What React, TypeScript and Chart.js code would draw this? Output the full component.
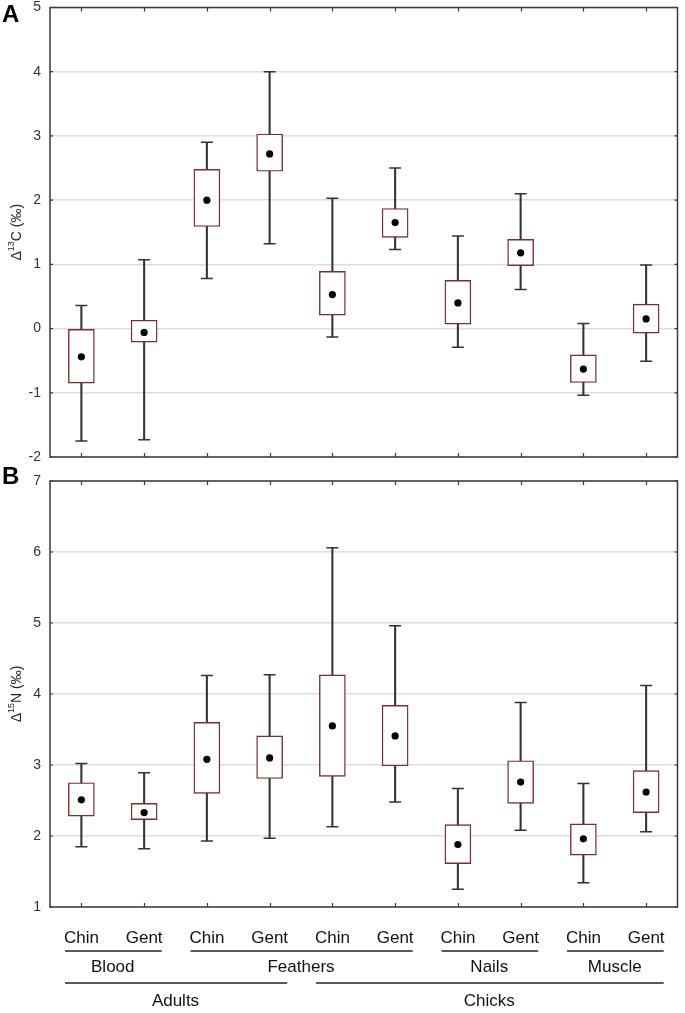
import React, { useEffect, useRef } from 'react';
import { Chart, registerables } from 'chart.js';

Chart.register(...registerables);

const FONT = "'Liberation Sans', Arial, sans-serif";

// Categories (x axis)
const categories = ['Chin', 'Gent', 'Chin', 'Gent', 'Chin', 'Gent', 'Chin', 'Gent', 'Chin', 'Gent'];
const tissueLabels = ['Blood', 'Feathers', 'Nails', 'Muscle'];
const tissueSpans = [[0, 1], [2, 5], [6, 7], [8, 9]];
const ageLabels = ['Adults', 'Chicks'];
const ageSpans = [[0, 3], [4, 9]];

// Panel A: Δ13C (‰)
const c13WhiskerLow = [-1.75, -1.73, 0.78, 1.32, -0.13, 1.23, -0.29, 0.61, -1.04, -0.51];
const c13BoxLow = [-0.85, -0.21, 1.59, 2.45, 0.21, 1.42, 0.07, 0.98, -0.84, -0.07];
const c13Mean = [-0.44, -0.06, 2.0, 2.72, 0.53, 1.65, 0.4, 1.18, -0.63, 0.15];
const c13BoxHigh = [0.0, 0.13, 2.48, 3.03, 0.89, 1.87, 0.75, 1.39, -0.41, 0.38];
const c13WhiskerHigh = [0.36, 1.07, 2.9, 4.0, 2.03, 2.5, 1.44, 2.1, 0.08, 0.99];
const c13Min = -2;
const c13Max = 5;

// Panel B: Δ15N (‰)
const n15WhiskerLow = [1.85, 1.82, 1.93, 1.97, 2.13, 2.48, 1.25, 2.08, 1.34, 2.06];
const n15BoxLow = [2.28, 2.23, 2.6, 2.81, 2.84, 2.99, 1.61, 2.46, 1.73, 2.33];
const n15Mean = [2.51, 2.33, 3.08, 3.1, 3.55, 3.41, 1.88, 2.76, 1.96, 2.62];
const n15BoxHigh = [2.75, 2.46, 3.6, 3.41, 4.27, 3.84, 2.16, 3.06, 2.17, 2.92];
const n15WhiskerHigh = [3.02, 2.89, 4.26, 4.27, 6.06, 4.96, 2.67, 3.88, 2.74, 4.12];
const n15Min = 1;
const n15Max = 7;

const BOX_COLOR = '#7b2c2c';
const LINE_COLOR = '#333333';

function zeroPad(s: any) {
  s.paddingTop = 0;
  s.paddingBottom = 0;
  s.paddingLeft = 0;
  s.paddingRight = 0;
}

function framePlugin() {
  return {
    id: 'frame',
    beforeDatasetsDraw(chart: any) {
      const { ctx, chartArea, scales } = chart;
      const { left, right, top, bottom } = chartArea;
      const x = scales.x;
      const y = scales.y;
      ctx.save();
      ctx.strokeStyle = '#3a3a3a';
      ctx.lineWidth = 1.5;
      ctx.strokeRect(left, top, right - left, bottom - top);
      ctx.lineWidth = 1.2;
      ctx.beginPath();
      for (let i = 0; i < categories.length; i++) {
        const px = Math.round(x.getPixelForValue(i)) + 0.5;
        ctx.moveTo(px, top);
        ctx.lineTo(px, top + 4);
        ctx.moveTo(px, bottom);
        ctx.lineTo(px, bottom - 4);
      }
      y.ticks.forEach((t: any) => {
        const py = y.getPixelForValue(t.value);
        ctx.moveTo(left, py);
        ctx.lineTo(left + 3, py);
        ctx.moveTo(right, py);
        ctx.lineTo(right - 3, py);
      });
      ctx.stroke();
      ctx.restore();
    },
  };
}

function titlePlugin(sup: string, element: string) {
  return {
    id: 'ytitle',
    afterDraw(chart: any) {
      const { ctx, chartArea } = chart;
      const cy = (chartArea.top + chartArea.bottom) / 2;
      const cx = 17;
      const big = `14px ${FONT}`;
      const small = `9px ${FONT}`;
      ctx.save();
      ctx.font = big;
      const wD = ctx.measureText('Δ').width;
      const rest = `${element} (‰)`;
      const wR = ctx.measureText(rest).width;
      ctx.font = small;
      const wS = ctx.measureText(sup).width;
      const total = wD + wS + wR;
      ctx.translate(cx, cy);
      ctx.rotate(-Math.PI / 2);
      ctx.fillStyle = '#222';
      ctx.textBaseline = 'middle';
      ctx.textAlign = 'left';
      let pos = -total / 2;
      ctx.font = big;
      ctx.fillText('Δ', pos, 0);
      pos += wD;
      ctx.font = small;
      ctx.fillText(sup, pos, -5);
      pos += wS;
      ctx.font = big;
      ctx.fillText(rest, pos, 0);
      ctx.restore();
    },
  };
}

function groupPlugin() {
  return {
    id: 'groups',
    afterDraw(chart: any) {
      const { ctx, scales } = chart;
      const x = scales.x;
      const step = x.getPixelForValue(1) - x.getPixelForValue(0);
      const rowLine1 = 481;
      const rowText1 = 497;
      const rowLine2 = 513;
      const rowText2 = 531;
      ctx.save();
      ctx.strokeStyle = '#222';
      ctx.lineWidth = 1.3;
      ctx.fillStyle = '#111';
      ctx.font = `17px ${FONT}`;
      ctx.textAlign = 'center';
      ctx.textBaseline = 'middle';
      const drawRow = (labels: string[], spans: number[][], ly: number, ty: number) => {
        labels.forEach((lab, i) => {
          const a = x.getPixelForValue(spans[i][0]) - step * 0.26;
          const b = x.getPixelForValue(spans[i][1]) + step * 0.28;
          ctx.beginPath();
          ctx.moveTo(a, ly);
          ctx.lineTo(b, ly);
          ctx.stroke();
          ctx.fillText(lab, (x.getPixelForValue(spans[i][0]) + x.getPixelForValue(spans[i][1])) / 2, ty);
        });
      };
      drawRow(tissueLabels, tissueSpans, rowLine1, rowText1);
      drawRow(ageLabels, ageSpans, rowLine2, rowText2);
      ctx.restore();
    },
  };
}

function buildConfig(p: {
  wl: number[]; bl: number[]; mean: number[]; bh: number[]; wh: number[];
  min: number; max: number; sup: string; element: string;
  padTop: number; xHeight: number; showLabels: boolean;
}) {
  const plugins: any[] = [framePlugin(), titlePlugin(p.sup, p.element)];
  if (p.showLabels) plugins.push(groupPlugin());
  return {
    type: 'bar',
    data: {
      labels: categories,
      datasets: [
        {
          type: 'line',
          label: 'mean',
          data: p.mean,
          showLine: false,
          pointStyle: 'circle',
          pointRadius: 3.6,
          pointBackgroundColor: '#000',
          pointBorderWidth: 0,
          order: 0,
        },
        {
          type: 'line',
          label: 'upper cap',
          data: p.wh,
          showLine: false,
          pointStyle: 'line',
          pointRadius: 6,
          pointBorderColor: LINE_COLOR,
          pointBorderWidth: 1.5,
          order: 1,
        },
        {
          type: 'line',
          label: 'lower cap',
          data: p.wl,
          showLine: false,
          pointStyle: 'line',
          pointRadius: 6,
          pointBorderColor: LINE_COLOR,
          pointBorderWidth: 1.5,
          order: 1,
        },
        {
          type: 'bar',
          label: 'box',
          data: p.bl.map((v, i) => [v, p.bh[i]]),
          backgroundColor: '#ffffff',
          borderColor: BOX_COLOR,
          borderWidth: 1.4,
          borderSkipped: false,
          barThickness: 26,
          grouped: false,
          order: 2,
        },
        {
          type: 'bar',
          label: 'whisker',
          data: p.wl.map((v, i) => [v, p.wh[i]]),
          backgroundColor: LINE_COLOR,
          borderWidth: 0,
          barThickness: 1.4,
          grouped: false,
          order: 3,
        },
      ],
    },
    options: {
      responsive: false,
      animation: false,
      devicePixelRatio: 1,
      layout: { padding: { top: p.padTop, right: 5, left: 0, bottom: 0 } },
      plugins: { legend: { display: false }, tooltip: { enabled: false } },
      scales: {
        x: {
          type: 'category',
          offset: true,
          grid: { display: false, drawTicks: false },
          border: { display: false },
          ticks: {
            display: p.showLabels,
            color: '#111',
            font: { family: FONT, size: 17 },
            padding: 21,
            maxRotation: 0,
            autoSkip: false,
          },
          afterFit: (s: any) => { s.height = p.xHeight; zeroPad(s); },
        },
        y: {
          min: p.min,
          max: p.max,
          grid: { color: '#dddddd', lineWidth: 1.5, drawTicks: false },
          border: { display: false },
          ticks: {
            stepSize: 1,
            color: '#333',
            font: { family: FONT, size: 14 },
            padding: 9,
          },
          afterFit: (s: any) => { s.width = 50; zeroPad(s); },
        },
      },
    },
    plugins,
  };
}

function Panel(props: { cfg: any; top: number; height: number }) {
  const ref = useRef<HTMLCanvasElement | null>(null);
  useEffect(() => {
    if (!ref.current) return;
    const chart = new Chart(ref.current, props.cfg);
    return () => chart.destroy();
  }, []);
  return (
    <canvas
      ref={ref}
      width={685}
      height={props.height}
      style={{ position: 'absolute', left: 0, top: props.top, width: 685, height: props.height }}
    />
  );
}

export default function App() {
  const cfgA = buildConfig({
    wl: c13WhiskerLow, bl: c13BoxLow, mean: c13Mean, bh: c13BoxHigh, wh: c13WhiskerHigh,
    min: c13Min, max: c13Max, sup: '13', element: 'C', padTop: 7, xHeight: 13, showLabels: false,
  });
  const cfgB = buildConfig({
    wl: n15WhiskerLow, bl: n15BoxLow, mean: n15Mean, bh: n15BoxHigh, wh: n15WhiskerHigh,
    min: n15Min, max: n15Max, sup: '15', element: 'N', padTop: 11, xHeight: 106, showLabels: true,
  });
  const letter: React.CSSProperties = {
    position: 'absolute', left: 2, fontFamily: FONT, fontWeight: 'bold', fontSize: 24, lineHeight: '24px', color: '#000',
  };
  return (
    <div style={{ position: 'absolute', left: 0, top: 0, width: 685, height: 1013, background: '#fff', overflow: 'hidden' }}>
      <Panel cfg={cfgA} top={0} height={470} />
      <Panel cfg={cfgB} top={470} height={543} />
      <div style={{ ...letter, top: 2 }}>A</div>
      <div style={{ ...letter, top: 464 }}>B</div>
    </div>
  );
}
